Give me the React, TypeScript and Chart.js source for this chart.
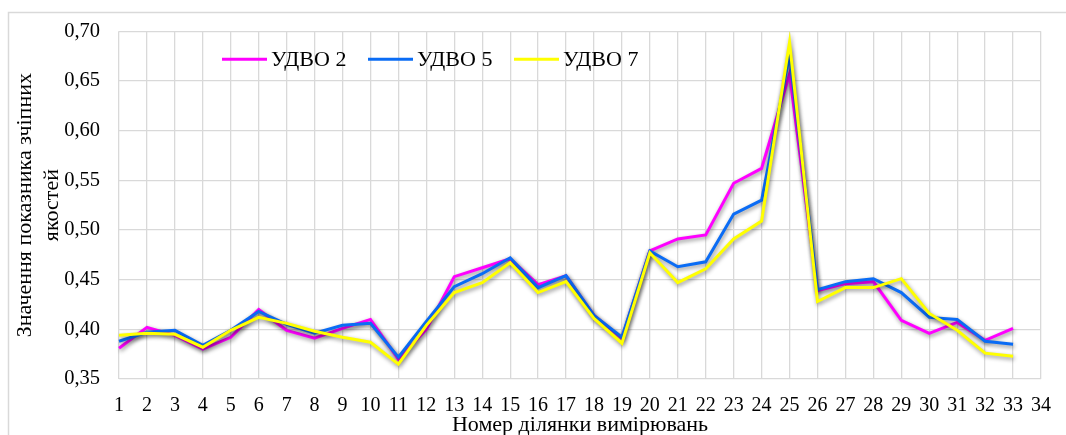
import React, { useEffect, useRef } from 'react';
import { Chart, registerables } from 'chart.js';

Chart.register(...registerables);

const FONT = "'Liberation Serif', 'Times New Roman', serif";

const categories = [
  '1', '2', '3', '4', '5', '6', '7', '8', '9', '10', '11', '12', '13', '14', '15', '16', '17',
  '18', '19', '20', '21', '22', '23', '24', '25', '26', '27', '28', '29', '30', '31', '32', '33', '34',
];

const udvo2 = [
  0.381, 0.402, 0.394, 0.380, 0.392, 0.420, 0.399, 0.391, 0.401, 0.410, 0.370, 0.400, 0.453,
  0.462, 0.471, 0.445, 0.454, 0.414, 0.391, 0.479, 0.491, 0.495, 0.547, 0.562, 0.657, 0.439,
  0.446, 0.448, 0.409, 0.396, 0.407, 0.389, 0.401,
];

const udvo5 = [
  0.388, 0.397, 0.399, 0.384, 0.399, 0.418, 0.405, 0.396, 0.404, 0.406, 0.372, 0.408, 0.443,
  0.456, 0.472, 0.442, 0.454, 0.414, 0.392, 0.479, 0.463, 0.468, 0.516, 0.530, 0.676, 0.440,
  0.448, 0.451, 0.437, 0.412, 0.410, 0.388, 0.385,
];

const udvo7 = [
  0.394, 0.396, 0.395, 0.382, 0.399, 0.412, 0.406, 0.398, 0.392, 0.387, 0.365, 0.404, 0.437,
  0.447, 0.467, 0.437, 0.448, 0.411, 0.386, 0.477, 0.447, 0.461, 0.491, 0.509, 0.689, 0.428,
  0.442, 0.442, 0.451, 0.416, 0.399, 0.376, 0.373,
];

const seriesNames = ['УДВО 2', 'УДВО 5', 'УДВО 7'];
const seriesColors = ['#FF00FF', '#0A6CF5', '#FFFF00'];
const seriesData = [udvo2, udvo5, udvo7];

const yAxisTitle = ['Значення показника зчіпних', 'якостей'];
const xAxisTitle = 'Номер ділянки вимірювань';

const framePlugin = {
  id: 'frame',
  beforeDraw(chart: any) {
    const ctx = chart.ctx;
    ctx.save();
    ctx.fillStyle = '#ffffff';
    ctx.fillRect(0, 0, chart.width, chart.height);
    ctx.strokeStyle = '#d9d9d9';
    ctx.lineWidth = 1.5;
    ctx.strokeRect(8.5, 12.5, chart.width + 20, chart.height + 20);
    ctx.restore();
  },
};

const shadowPlugin = {
  id: 'lineShadow',
  beforeDatasetDraw(chart: any) {
    const ctx = chart.ctx;
    ctx.save();
    ctx.shadowColor = 'rgba(0,0,0,0.45)';
    ctx.shadowBlur = 4;
    ctx.shadowOffsetX = 1;
    ctx.shadowOffsetY = 2;
  },
  afterDatasetDraw(chart: any) {
    chart.ctx.restore();
  },
};

const legendPlugin = {
  id: 'innerLegend',
  afterDraw(chart: any) {
    const ctx = chart.ctx;
    const area = chart.chartArea;
    const startX = area.left + 103;
    const y = area.top + 28;
    ctx.save();
    ctx.font = `22px ${FONT}`;
    ctx.textBaseline = 'middle';
    ctx.textAlign = 'left';
    seriesNames.forEach((name, i) => {
      const x = startX + i * 146;
      ctx.strokeStyle = seriesColors[i];
      ctx.lineWidth = 3;
      ctx.beginPath();
      ctx.moveTo(x, y);
      ctx.lineTo(x + 45, y);
      ctx.stroke();
      ctx.fillStyle = '#000';
      ctx.fillText(name, x + 49, y + 1);
    });
    ctx.restore();
  },
};

export default function App() {
  const canvasRef = useRef<HTMLCanvasElement | null>(null);

  useEffect(() => {
    const canvas = canvasRef.current;
    if (!canvas) return;
    const datasets = seriesNames.map((name, i) => ({
      label: name,
      data: seriesData[i],
      borderColor: seriesColors[i],
      backgroundColor: seriesColors[i],
      borderWidth: 3,
      pointRadius: 0,
      tension: 0,
      fill: false,
      order: seriesNames.length - i,
    }));

    const chart = new Chart(canvas, {
      type: 'line',
      data: { labels: categories, datasets },
      plugins: [framePlugin, shadowPlugin, legendPlugin],
      options: {
        animation: false,
        responsive: false,
        devicePixelRatio: 1,
        layout: { padding: { left: 0, top: 29, right: 14, bottom: 0 } },
        plugins: {
          legend: { display: false },
          tooltip: { enabled: false },
          title: { display: false },
        },
        scales: {
          x: {
            type: 'category',
            offset: false,
            grid: { color: '#d9d9d9', lineWidth: 1.3, drawTicks: false },
            border: { display: false },
            ticks: {
              color: '#000',
              font: { family: FONT, size: 20 },
              padding: 15,
              maxRotation: 0,
              autoSkip: false,
            },
            title: {
              display: true,
              text: xAxisTitle,
              color: '#000',
              font: { family: FONT, size: 22, lineHeight: 1.2 },
              padding: { top: 0, bottom: -3 },
            },
            afterFit(scale: any) {
              scale.height = 56;
            },
          },
          y: {
            min: 0.35,
            max: 0.7,
            grid: { color: '#d9d9d9', lineWidth: 1.3, drawTicks: false },
            border: { display: false },
            ticks: {
              stepSize: 0.05,
              color: '#000',
              font: { family: FONT, size: 20.5 },
              padding: 19,
              callback: (v: any) => Number(v).toFixed(2).replace('.', ','),
            },
            title: {
              display: true,
              text: yAxisTitle,
              color: '#000',
              font: { family: FONT, size: 22, lineHeight: 1.23 },
              padding: { top: 12, bottom: 0 },
            },
            afterFit(scale: any) {
              scale.width = 119;
            },
          },
        },
      } as any,
    });
    return () => chart.destroy();
  }, []);

  return (
    <div style={{ position: 'fixed', left: 0, top: 0, width: 1066, height: 435, overflow: 'hidden', background: '#fff' }}>
      <canvas ref={canvasRef} width={1066} height={435} style={{ display: 'block', width: 1066, height: 435 }} />
    </div>
  );
}
